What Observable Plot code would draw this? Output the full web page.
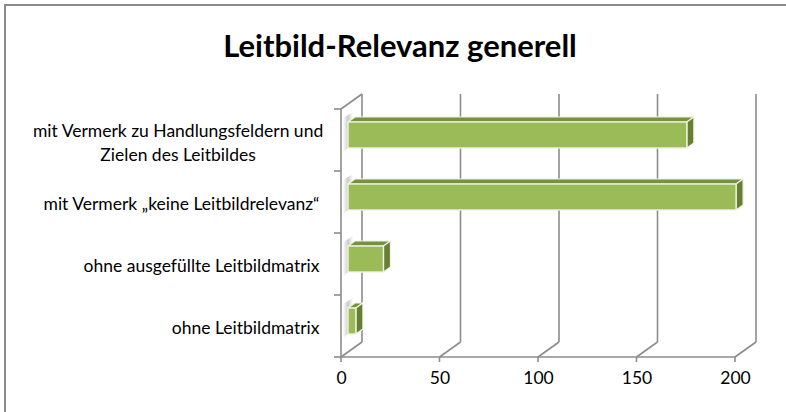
<!DOCTYPE html>
<html><head><meta charset="utf-8">
<script src="https://cdn.jsdelivr.net/npm/d3@7"></script>
<script src="https://cdn.jsdelivr.net/npm/@observablehq/plot@0.6"></script>
<style>
body{margin:0;background:#fff;}
#wrap{position:relative;width:786px;height:412px;overflow:hidden;font-family:Lato,"Open Sans",sans-serif;background:#fff;}
#frame{position:absolute;left:4px;top:4px;width:800px;height:420px;border-left:2px solid #8c8c8c;border-top:2px solid #8c8c8c;}
#title{position:absolute;left:0;top:26px;width:800px;text-align:center;font-weight:bold;font-size:31px;line-height:38px;color:#000;}
#chart{position:absolute;left:0;top:80px;}
</style></head>
<body><div id="wrap"><div id="frame"></div><div id="title"></div><div id="chart"></div></div>
<script>
const title = "Leitbild-Relevanz generell";
const categories = [
  "mit Vermerk zu Handlungsfeldern und\nZielen des Leitbildes",
  "mit Vermerk „keine Leitbildrelevanz“",
  "ohne ausgefüllte Leitbildmatrix",
  "ohne Leitbildmatrix"
];
const values = [172, 197, 18, 4];
const xTicks = [0, 50, 100, 150, 200];

const data = categories.map((c, i) => ({category: c, value: values[i]}));

const FONT = "Lato, 'Open Sans', sans-serif";
const FS = 17.5;
const GRID = "#8c8c8c";
const DX = 21, DY = -15;          // wall depth
const BX = 7, BY = -5;            // bar depth offset
const INSET = 18;
const FRONT = "#9BBB59", TOP = "#76923C", SIDE = "#667F33", EDGE = "#EEF3E2";

document.getElementById("title").textContent = title;

function walls(index, scales, vals, dims) {
  const {x, y} = scales;
  const yB = dims.height - dims.marginBottom, yT = dims.marginTop;
  const x0 = x(0);
  const g = d3.create("svg:g").attr("fill", "none").attr("stroke", GRID).attr("stroke-width", 1.6);
  const line = (a, b, c, d) => g.append("line").attr("x1", a).attr("y1", b).attr("x2", c).attr("y2", d);
  for (const t of xTicks) {
    line(x(t) + DX, yB + DY, x(t) + DX, yT + DY);
    line(x(t), yB, x(t) + DX, yB + DY);
    line(x(t), yB, x(t), yB + 5);
  }
  line(x(xTicks[0]), yB, x(xTicks[xTicks.length - 1]), yB);
  line(x0, yT, x0, yB);
  line(x0, yT, x0 + DX, yT + DY);
  for (const c of categories) line(x0 - 7, y(c), x0, y(c));
  line(x0 - 7, yB, x0, yB);
  return g.node();
}

function faces(index, scales, vals, dims) {
  const {x, y} = scales;
  const bw = y.bandwidth();
  const g = d3.create("svg:g").attr("stroke", EDGE).attr("stroke-width", 1.2).attr("stroke-linejoin", "round");
  const defs = g.append("defs");
  const grad = defs.append("linearGradient").attr("id", "sh").attr("x1", 0).attr("x2", 1);
  grad.append("stop").attr("offset", 0).attr("stop-color", "#b5b5b5").attr("stop-opacity", 0.0);
  grad.append("stop").attr("offset", 0.5).attr("stop-color", "#b5b5b5").attr("stop-opacity", 0.7);
  grad.append("stop").attr("offset", 1).attr("stop-color", "#b5b5b5").attr("stop-opacity", 0.0);
  data.forEach(d => {
    const x0 = x(0) + BX, x1 = x(d.value) + BX;
    const yt = y(d.category) + INSET + BY, yb = y(d.category) + bw - INSET + BY;
    g.append("polygon").attr("stroke", "none").attr("fill", "url(#sh)")
      .attr("points", [[x(0) + 2, yt - 4], [x(0) + 12, yt - 10], [x(0) + 12, yb - 4], [x(0) + 2, yb + 4]].join(" "));
    g.append("polygon").attr("fill", TOP)
      .attr("points", [[x0, yt], [x1, yt], [x1 + BX, yt + BY], [x0 + BX, yt + BY]].join(" "));
    g.append("polygon").attr("fill", SIDE)
      .attr("points", [[x1, yt], [x1 + BX, yt + BY], [x1 + BX, yb + BY], [x1, yb]].join(" "));
  });
  return g.node();
}

const ctx = document.createElement("canvas").getContext("2d");
ctx.font = `${FS}px ${FONT}`;

const single = categories.filter(c => !c.includes("\n"));
const multi = categories.filter(c => c.includes("\n"));
const LABEL_END = 22;

const chart = Plot.plot({
  width: 786,
  height: 332,
  marginLeft: 341,
  marginRight: 51,
  marginTop: 29,
  marginBottom: 55,
  style: {fontFamily: FONT, fontSize: FS + "px", color: "#000", background: "transparent"},
  x: {domain: [0, 200], axis: null},
  y: {domain: categories, padding: 0, axis: null},
  marks: [
    walls,
    faces,
    Plot.barX(data, {x: "value", y: "category", dx: BX, dy: BY, insetTop: INSET, insetBottom: INSET,
      fill: FRONT, stroke: EDGE, strokeWidth: 1.4}),
    Plot.text(xTicks, {x: d => d, text: d => String(d), frameAnchor: "bottom", dy: 26, fontSize: FS, fill: "#000"}),
    Plot.text(single, {y: d => d, text: d => d, frameAnchor: "left", textAnchor: "end", dx: -LABEL_END, dy: 2, fontSize: FS, fill: "#000"}),
    Plot.text(multi, {y: d => d, text: d => d, frameAnchor: "left", textAnchor: "middle", lineHeight: 1.33,
      dx: -LABEL_END + 4 - Math.max(...multi[0].split("\n").map(s => ctx.measureText(s).width)) / 2, dy: 1, fontSize: FS, fill: "#000"})
  ]
});
document.getElementById("chart").appendChild(chart);
</script>
</body></html>
